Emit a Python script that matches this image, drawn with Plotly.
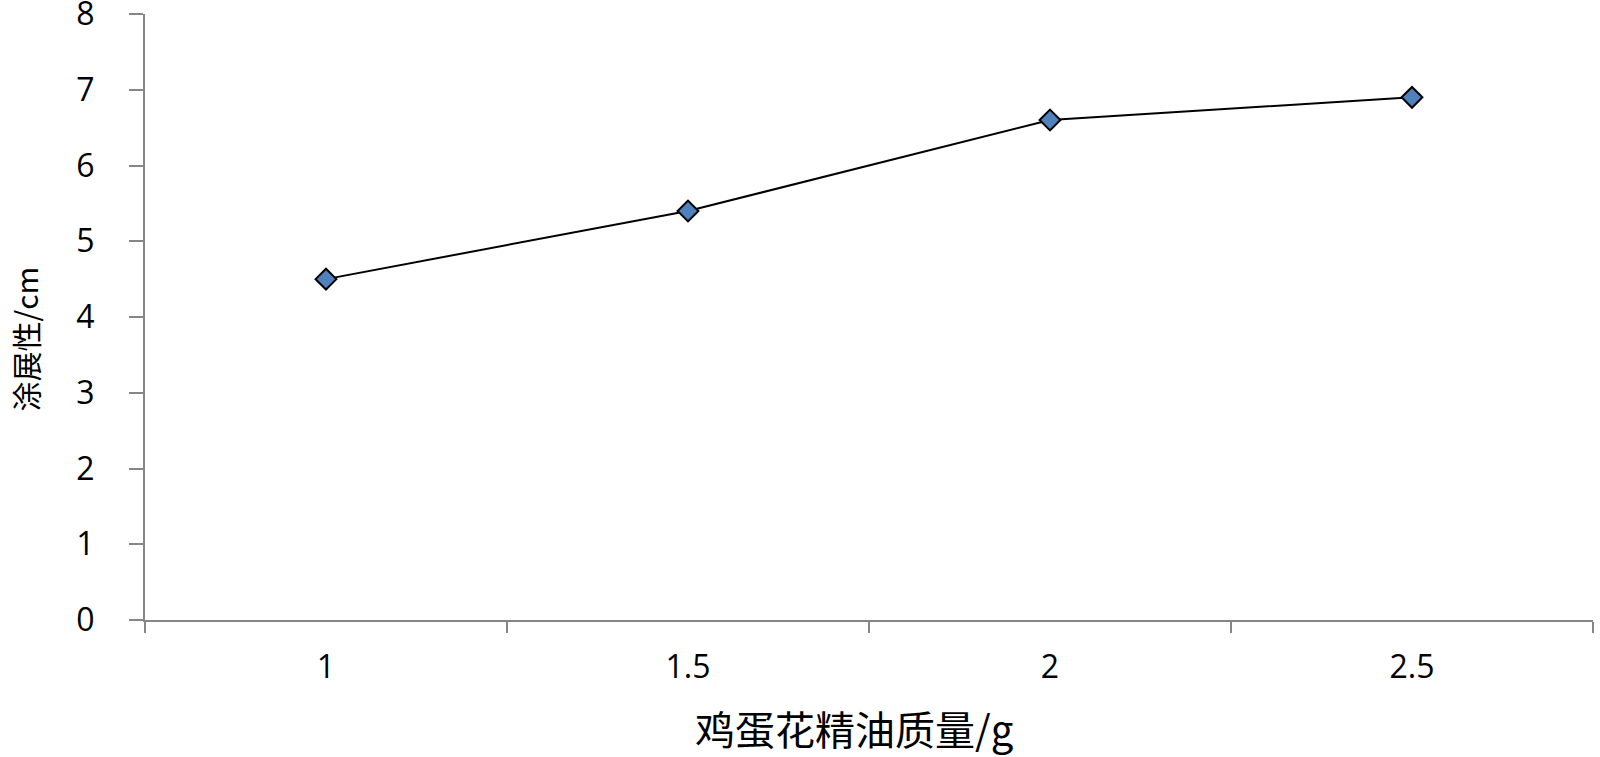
import plotly.graph_objects as go

categories = ["1", "1.5", "2", "2.5"]
values = [4.5, 5.4, 6.6, 6.9]
y_ticks = [0, 1, 2, 3, 4, 5, 6, 7, 8]
x_title = "鸡蛋花精油质量/g"
y_title = "涂展性/cm"

fig = go.Figure()
fig.add_trace(go.Scatter(
    x=categories, y=values, mode="lines+markers",
    line=dict(color="black", width=2),
    marker=dict(symbol="diamond", size=16, color="#4F81BD",
                line=dict(color="black", width=2)),
    showlegend=False,
))

axis_font = dict(family="Open Sans, DejaVu Sans, sans-serif", size=32, color="black")
cjk = "Noto Sans CJK SC, Open Sans, sans-serif"

fig.update_layout(
    width=1600, height=757,
    margin=dict(l=145, r=7, t=14, b=137),
    paper_bgcolor="white", plot_bgcolor="white",
    xaxis=dict(
        type="category", range=[-0.5, 3.5], automargin=False,
        tickson="boundaries", ticks="outside", ticklen=11, tickwidth=2,
        tickcolor="#868686",
        showline=True, linecolor="#868686", linewidth=2,
        showgrid=False, zeroline=False, ticklabeloverflow="allow",
        tickfont=axis_font, ticklabelstandoff=18,
    ),
    yaxis=dict(
        range=[0, 8], tickvals=y_ticks, ticks="outside", ticklen=14, tickwidth=2,
        tickcolor="#868686", automargin=False,
        showline=True, linecolor="#868686", linewidth=2,
        showgrid=False, zeroline=False, ticklabeloverflow="allow",
        tickfont=axis_font, ticklabelstandoff=28,
    ),
    annotations=[
        dict(text=x_title, xref="paper", yref="paper", x=0.4896, y=-0.1775,
             xanchor="center", yanchor="middle", showarrow=False,
             font=dict(family=cjk, size=40, color="black")),
        dict(text=y_title, xref="paper", yref="paper", x=-0.0832, y=0.4637,
             xanchor="center", yanchor="middle", showarrow=False, textangle=-90,
             font=dict(family=cjk, size=30, color="black")),
    ],
)

fig.write_html("out.html", config={"displayModeBar": False},
               post_script="document.body.style.margin='0';")
